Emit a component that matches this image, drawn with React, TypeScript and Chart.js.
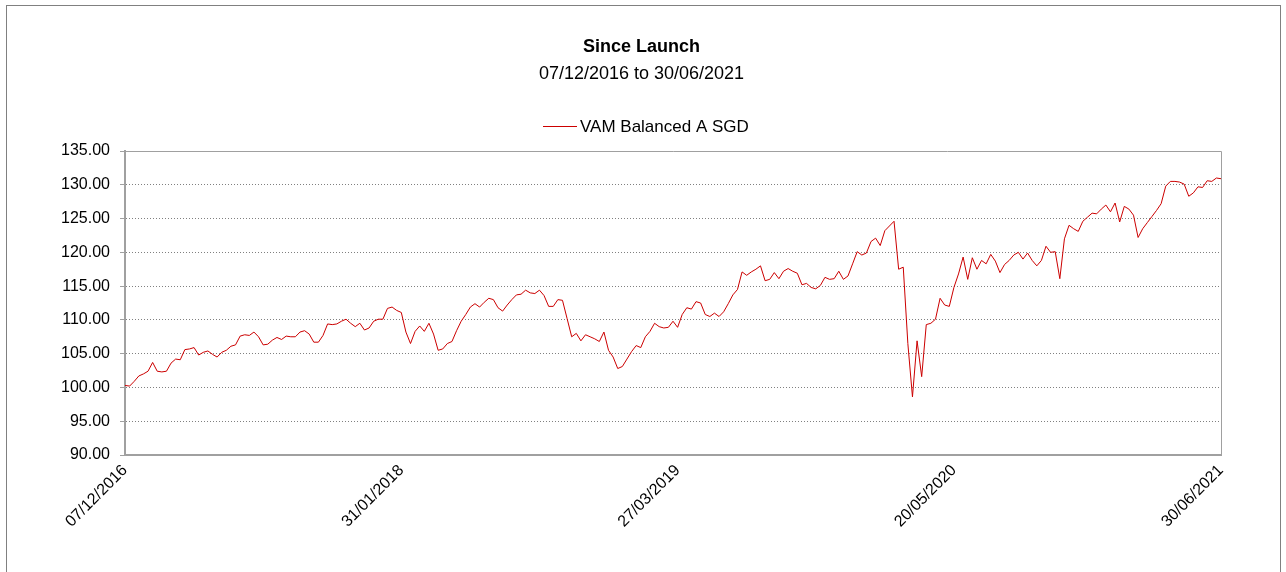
import { useEffect, useRef } from 'react';
import { Chart, registerables } from 'chart.js';

Chart.register(...registerables);

const titleText = 'Since Launch';
const subtitleText = '07/12/2016 to 30/06/2021';
const seriesLabel = 'VAM Balanced A SGD';

// weekly observations from 07/12/2016 (index 0) to 30/06/2021 (index 238)
const tickIndices = [0, 60, 120, 180, 238];
const tickLabels = ['07/12/2016', '31/01/2018', '27/03/2019', '20/05/2020', '30/06/2021'];

const values = [
  100.3, 100.2, 100.9, 101.7, 102.0, 102.4, 103.7, 102.4, 102.3, 102.4,
  103.6, 104.2, 104.1, 105.6, 105.7, 105.9, 104.8, 105.2, 105.4, 104.9,
  104.5, 105.2, 105.5, 106.1, 106.3, 107.6, 107.8, 107.7, 108.2, 107.5,
  106.3, 106.4, 107.0, 107.4, 107.1, 107.6, 107.5, 107.5, 108.2, 108.4,
  107.9, 106.7, 106.7, 107.7, 109.4, 109.3, 109.4, 109.8, 110.1, 109.5,
  109.0, 109.5, 108.5, 108.8, 109.8, 110.1, 110.1, 111.7, 111.9, 111.4,
  111.1, 108.2, 106.5, 108.3, 109.1, 108.3, 109.5, 107.9, 105.5, 105.7,
  106.5, 106.8, 108.4, 109.8, 110.8, 111.9, 112.4, 111.9, 112.6, 113.2,
  113.0, 111.8, 111.3, 112.2, 113.0, 113.7, 113.8, 114.4, 114.0, 113.9,
  114.4, 113.6, 112.0, 112.0, 113.0, 112.9, 110.2, 107.5, 108.0, 106.9,
  107.8, 107.5, 107.2, 106.8, 108.2, 105.5, 104.5, 102.8, 103.1, 104.2,
  105.3, 106.2, 105.9, 107.5, 108.3, 109.5, 109.0, 108.8, 108.9, 109.8,
  108.9, 110.8, 111.8, 111.6, 112.7, 112.5, 110.8, 110.5, 111.0, 110.5,
  111.2, 112.4, 113.7, 114.5, 117.1, 116.6, 117.1, 117.5, 118.0, 115.8,
  116.0, 117.0, 116.1, 117.2, 117.6, 117.2, 116.9, 115.2, 115.4, 114.8,
  114.6, 115.1, 116.3, 116.0, 116.1, 117.2, 116.0, 116.5, 118.3, 120.1,
  119.6, 119.9, 121.6, 122.1, 121.0, 123.2, 123.9, 124.6, 117.5, 117.8,
  106.5, 98.6, 106.9, 101.6, 109.3, 109.5, 110.1, 113.2, 112.2, 112.0,
  114.8, 116.8, 119.3, 116.0, 119.2, 117.5, 118.8, 118.3, 119.7, 118.7,
  117.0, 118.2, 118.8, 119.6, 120.0, 119.0, 119.9, 118.8, 118.0, 118.8,
  120.9, 120.0, 120.1, 116.1, 122.0, 124.0, 123.5, 123.1, 124.6, 125.2,
  125.8, 125.7, 126.4, 127.0, 126.0, 127.3, 124.5, 126.8, 126.4, 125.5,
  122.2, 123.5, 124.4, 125.3, 126.2, 127.2, 129.8, 130.5, 130.5, 130.4,
  130.1, 128.3, 128.8, 129.7, 129.6, 130.6, 130.5, 131.0, 130.9,
];

const yMin = 90;
const yMax = 135;
const yStep = 5;

const FONT = "'Liberation Sans', Arial, Helvetica, sans-serif";
const LINE_COLOR = '#cc0000';
const AXIS_COLOR = '#a0a0a0';

const W = 1286;
const H = 572;

export default function App() {
  const ref = useRef<HTMLCanvasElement | null>(null);

  useEffect(() => {
    const canvas = ref.current;
    if (!canvas) return;

    const decor = {
      id: 'decor',
      beforeDraw(chart: any) {
        const ctx = chart.ctx;
        ctx.save();
        ctx.fillStyle = '#ffffff';
        ctx.fillRect(0, 0, chart.width, chart.height);
        // outer frame
        ctx.strokeStyle = '#808080';
        ctx.lineWidth = 1;
        ctx.strokeRect(6.5, 5.5, 1274, 700);
        // title + subtitle
        ctx.fillStyle = '#000';
        ctx.textAlign = 'center';
        ctx.textBaseline = 'middle';
        ctx.font = `bold 18px ${FONT}`;
        ctx.fillText(titleText, 641.5, 47);
        ctx.font = `18px ${FONT}`;
        ctx.fillText(subtitleText, 641.5, 74);
        // legend
        const ds = chart.data.datasets[0];
        ctx.strokeStyle = ds.borderColor;
        ctx.lineWidth = 1;
        ctx.beginPath();
        ctx.moveTo(543, 126.5);
        ctx.lineTo(577, 126.5);
        ctx.stroke();
        ctx.font = `17px ${FONT}`;
        ctx.textAlign = 'left';
        ctx.fillText(ds.label, 580, 127);
        ctx.restore();
      },
      beforeDatasetsDraw(chart: any) {
        const { ctx, chartArea } = chart;
        ctx.save();
        ctx.strokeStyle = AXIS_COLOR;
        ctx.lineWidth = 1;
        ctx.beginPath();
        ctx.moveTo(Math.round(chartArea.left), Math.round(chartArea.top) + 0.5);
        ctx.lineTo(Math.round(chartArea.right) + 0.5, Math.round(chartArea.top) + 0.5);
        ctx.lineTo(Math.round(chartArea.right) + 0.5, Math.round(chartArea.bottom));
        ctx.stroke();
        ctx.restore();
      },
    };

    const chart = new Chart(canvas, {
      type: 'line',
      data: {
        datasets: [
          {
            label: seriesLabel,
            data: values.map((v, i) => ({ x: i, y: v })),
            borderColor: LINE_COLOR,
            borderWidth: 1,
            pointRadius: 0,
            tension: 0,
            fill: false,
          },
        ],
      },
      options: {
        animation: false,
        responsive: false,
        devicePixelRatio: 1,
        layout: { padding: { top: 151, left: 0, right: 65, bottom: 0 } },
        plugins: {
          legend: { display: false },
          title: { display: false },
          tooltip: { enabled: false },
        },
        scales: {
          x: {
            type: 'linear',
            min: 0,
            max: values.length - 1,
            afterBuildTicks: (s: any) => {
              s.ticks = tickIndices.map((v) => ({ value: v }));
            },
            afterFit: (s: any) => {
              s.height = H - 455;
            },
            ticks: {
              autoSkip: false,
              minRotation: 45,
              maxRotation: 45,
              padding: 6,
              color: '#000',
              font: { family: FONT, size: 16 },
              callback: (_v: any, i: number) => tickLabels[i],
            },
            grid: { display: false, drawTicks: false },
            border: { display: true, color: AXIS_COLOR, width: 2 },
          },
          y: {
            min: yMin,
            max: yMax,
            afterFit: (s: any) => {
              s.width = 125;
            },
            ticks: {
              stepSize: yStep,
              padding: 10,
              color: '#000',
              font: { family: FONT, size: 16 },
              callback: (v: any) => Number(v).toFixed(2),
            },
            grid: {
              color: '#808080',
              lineWidth: 1,
              drawTicks: true,
              tickLength: 5,
              tickColor: AXIS_COLOR,
              tickWidth: 1,
              tickBorderDash: [],
            },
            border: { display: true, color: AXIS_COLOR, width: 2, dash: [1, 2] },
          },
        },
      },
      plugins: [decor],
    } as any);

    return () => chart.destroy();
  }, []);

  return (
    <canvas
      ref={ref}
      width={W}
      height={H}
      style={{ position: 'absolute', left: 0, top: 0, display: 'block', width: W, height: H }}
    />
  );
}
